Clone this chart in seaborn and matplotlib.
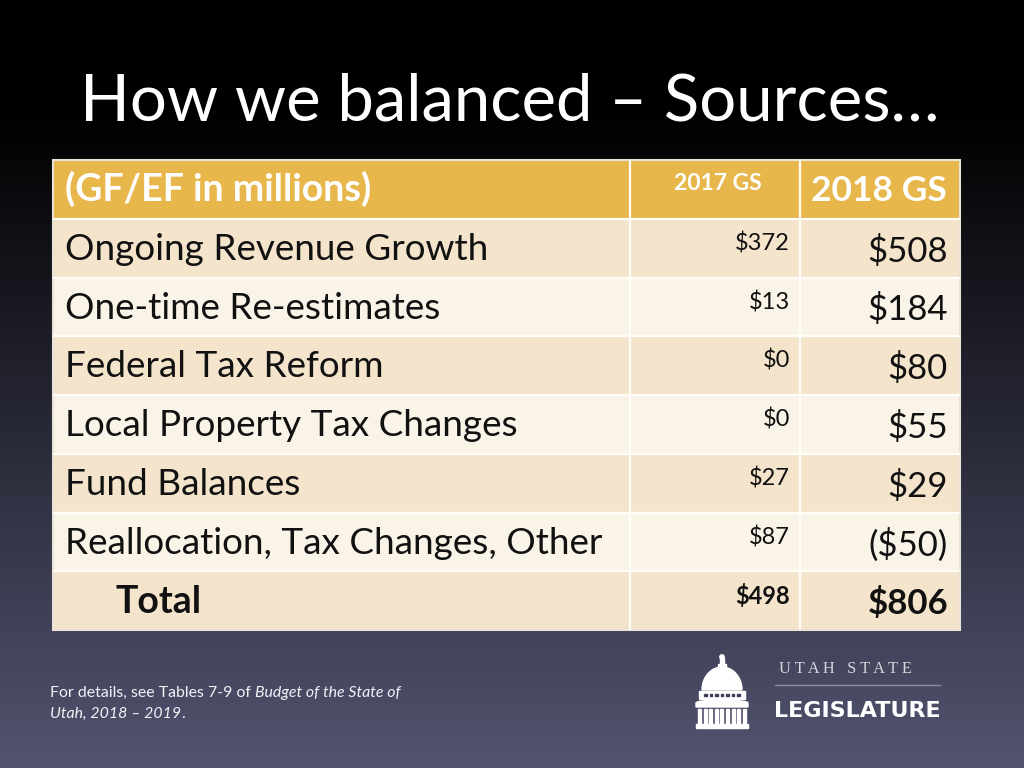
import numpy as np
import pandas as pd
import matplotlib
matplotlib.use("Agg")
import matplotlib.pyplot as plt
import seaborn as sns
from matplotlib.colors import ListedColormap
from matplotlib.patches import Rectangle, Polygon, Circle

# ---- data ----
title = "How we balanced \u2013 Sources\u2026"
header_label = "(GF/EF in millions)"
col_2017 = "2017 GS"
col_2018 = "2018 GS"
categories = ["Ongoing Revenue Growth", "One-time Re-estimates", "Federal Tax Reform",
              "Local Property Tax Changes", "Fund Balances",
              "Reallocation, Tax Changes, Other", "Total"]
gs2017 = [372, 13, 0, 0, 27, 87, 498]
gs2018 = [508, 184, 80, 55, 29, -50, 806]

def fmt(v):
    return f"(${-v})" if v < 0 else f"${v}"

sns.set_theme(style="white")
plt.rcParams['font.family'] = ['Lato', 'DejaVu Sans']

W, H = 1024, 768
fig = plt.figure(figsize=(W / 100, H / 100), dpi=100)

# ---- background gradient ----
axbg = fig.add_axes([0, 0, 1, 1])
yy = np.linspace(0, 1, H)
t = np.clip((yy * H - 110) / (H - 110), 0, 1)
top = np.array([0, 0, 0])
bot = np.array([82, 84, 112]) / 255
grad = (t[:, None] * bot[None, :] + (1 - t[:, None]) * top[None, :])
img = np.repeat(grad[:, None, :], 8, axis=1)
axbg.imshow(img, aspect='auto', extent=[0, W, H, 0])
axbg.set_xlim(0, W)
axbg.set_ylim(H, 0)
axbg.axis('off')

# ---- title ----
fig.text(80 / W, 1 - 102 / H, title, color='white', fontsize=47, va='center', ha='left')

# ---- table via heatmap ----
x0, x1, y0, y1 = 53, 960, 160, 630
ax = fig.add_axes([x0 / W, 1 - y1 / H, (x1 - x0) / W, (y1 - y0) / H])
ncols = x1 - x0
c1, c2 = 630 - x0, 800 - x0  # column boundaries in units
nrows = len(categories) + 1
codes = [0] + [1 if i % 2 == 0 else 2 for i in range(len(categories))]
mat = pd.DataFrame(np.repeat(np.array(codes)[:, None], ncols, axis=1))
cmap = ListedColormap(['#E8B74B', '#F4E4CB', '#FAF3E8'])
sns.heatmap(mat, ax=ax, cmap=cmap, vmin=-0.5, vmax=2.5, cbar=False,
            xticklabels=False, yticklabels=False, linewidths=0)
for r in range(1, nrows):
    ax.axhline(r, color='#FFFDF8', lw=1.6)
for c in (c1, c2):
    ax.axvline(c, color='#FFFDF8', lw=1.6)
ax.add_patch(Rectangle((0, 0), ncols, nrows, fill=False, ec='#E9E2D6', lw=1.5, clip_on=False))

def ux(px):
    return (px - x0) / (x1 - x0) * ncols

dark = '#111111'
ax.text(ux(65), 0.5, header_label, color='white', fontsize=27, fontweight='bold',
        va='center', ha='left')
ax.text(ux(762), 0.40, col_2017, color='white', fontsize=16.5, fontweight='bold',
        va='center', ha='right')
ax.text(ux(947), 0.52, col_2018, color='white', fontsize=25.5, fontweight='bold',
        va='center', ha='right')

for i, (cat, a, b) in enumerate(zip(categories, gs2017, gs2018)):
    r = i + 1
    is_total = (cat == "Total")
    wt = 'bold' if is_total else 'normal'
    ax.text(ux(115) if is_total else ux(65), r + 0.52, cat, color=dark,
            fontsize=27 if is_total else 26.6,
            fontweight=wt, va='center', ha='left')
    ax.text(ux(790), r + 0.42, fmt(a), color=dark, fontsize=17, fontweight=wt,
            va='center', ha='right')
    ax.text(ux(948), r + 0.55, fmt(b), color=dark, fontsize=25, fontweight=wt,
            va='center', ha='right')

# ---- overlay for footer and logo ----
ov = fig.add_axes([0, 0, 1, 1])
ov.set_xlim(0, W)
ov.set_ylim(H, 0)
ov.axis('off')
ov.patch.set_alpha(0)

fc = '#F2F2F5'
fs = 11.4
fig.canvas.draw()
r = fig.canvas.get_renderer()
t1 = ov.text(50, 693, "For details, see Tables 7-9 of ", color=fc, fontsize=fs,
             va='center', ha='left')
bb = t1.get_window_extent(renderer=r)
inv = ov.transData.inverted()
xe = inv.transform((bb.x1, bb.y0))[0]
ov.text(xe, 693, "Budget of the State of", color=fc, fontsize=fs, style='italic',
        va='center', ha='left')
t3 = ov.text(50, 714, "Utah, 2018 \u2013 2019", color=fc, fontsize=fs, style='italic',
             va='center', ha='left')
bb3 = t3.get_window_extent(renderer=r)
xe3 = inv.transform((bb3.x1, bb3.y0))[0]
ov.text(xe3, 714, ".", color=fc, fontsize=fs, va='center', ha='left')

# logo text
ov.text(845, 669, "U T A H   S T A T E", color='#D8D8DE', fontsize=11.8,
        family=['Liberation Serif', 'DejaVu Serif'], va='center', ha='center')
ov.plot([775, 940], [685, 685], color='#8A8CA2', lw=1)
ov.text(857, 711, "LEGISLATURE", color='white', fontsize=16, fontweight='bold',
        family=['DejaVu Sans'], va='center', ha='center')

# capitol dome
wc = 'white'
cx = 722
ov.add_patch(Circle((cx, 657), 2.2, color=wc))
ov.add_patch(Rectangle((cx - 2, 658), 4, 8, color=wc))
ov.add_patch(Rectangle((cx - 4, 664), 8, 4, color=wc))
th = np.linspace(0, np.pi, 60)
dome = np.column_stack([cx + 20 * np.cos(th), 690 - 23 * np.sin(th)])
ov.add_patch(Polygon(dome, closed=True, color=wc))
ov.add_patch(Rectangle((cx - 23, 691), 46, 8, color=wc))
for k in range(7):
    ov.add_patch(Rectangle((cx - 18 + k * 5.5, 693.5), 2.5, 2.5, color='#3C3E58'))
arc = np.linspace(0, np.pi, 40)
band_top = np.column_stack([cx - 26 * np.cos(arc), 703 - 3 * np.sin(arc)])
band = np.vstack([band_top, [[cx + 26, 707], [cx - 26, 707]]])
ov.add_patch(Polygon(band, closed=True, color=wc))
for k in range(9):
    ov.add_patch(Rectangle((cx - 24 + k * 5.6, 709), 3, 15, color=wc))
ov.add_patch(Rectangle((cx - 26, 724), 52, 4, color=wc))

fig.savefig("out.png", dpi=100)
